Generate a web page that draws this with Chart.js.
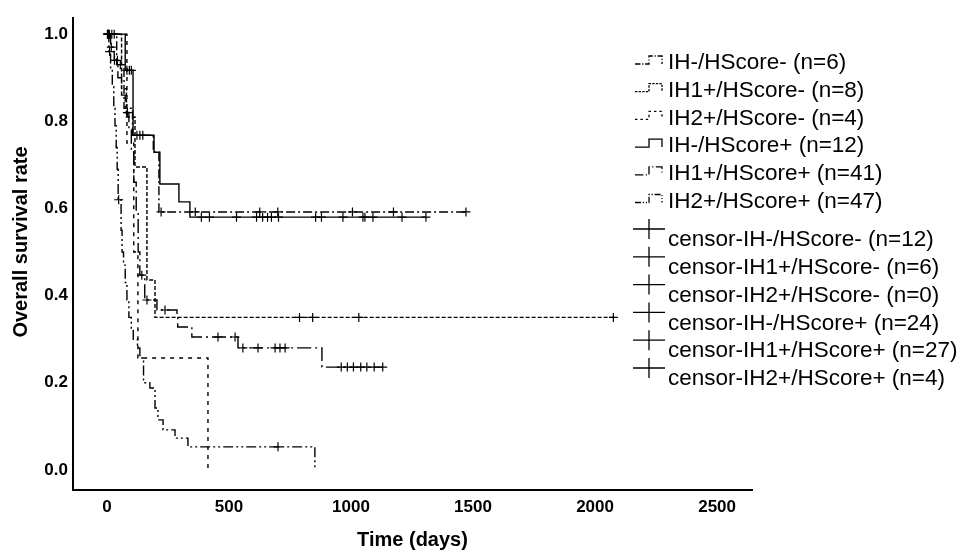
<!DOCTYPE html>
<html>
<head>
<meta charset="utf-8">
<script src="https://cdn.jsdelivr.net/npm/chart.js@4.4.1/dist/chart.umd.min.js"></script>
<style>
  html, body { margin: 0; padding: 0; background: #ffffff; }
  #wrap { width: 963px; height: 556px; position: relative; }
</style>
</head>
<body>
<div id="wrap"><canvas id="chart"></canvas></div>
<script>
/* Tick labels */
const xTicks = [0, 500, 1000, 1500, 2000, 2500];
const yTicks = [0, 0.2, 0.4, 0.6, 0.8, 1.0];
const yTitle = 'Overall survival rate';

/* Legend texts, same order as the groups below */
const groupNames = [
    'IH-/HScore- (n=6)',
    'IH1+/HScore- (n=8)',
    'IH2+/HScore- (n=4)',
    'IH-/HScore+ (n=12)',
    'IH1+/HScore+ (n=41)',
    'IH2+/HScore+ (n=47)',
];
const censorNames = [
    'censor-IH-/HScore- (n=12)',
    'censor-IH1+/HScore- (n=6)',
    'censor-IH2+/HScore- (n=0)',
    'censor-IH-/HScore+ (n=24)',
    'censor-IH1+/HScore+ (n=27)',
    'censor-IH2+/HScore+ (n=4)',
];

/* Kaplan-Meier steps: day of event, survival after it */
const ihNegHsNegDays = [0, 40, 70, 105, 190, 213, 1471];
const ihNegHsNegSurv = [1.0, 0.93, 0.83, 0.768, 0.729, 0.592, 0.592];
const ihNegHsNegCensor = [5, 20, 55, 123, 135, 147, 222, 362, 626, 700, 1006, 1174, 1471];

const ih1HsNegDays = [0, 60, 80, 115, 164, 197, 2075];
const ih1HsNegSurv = [1.0, 0.875, 0.81, 0.695, 0.436, 0.35, 0.35];
const ih1HsNegCensor = [30, 789, 843, 1032, 2075];

const ih2HsNegDays = [0, 82, 110, 127, 414];
const ih2HsNegSurv = [1.0, 0.75, 0.5, 0.257, 0.0];
const ih2HsNegCensor = [];

const ihNegHsPosDays = [0, 75, 107, 193, 217, 295, 340, 1307];
const ihNegHsPosSurv = [1.0, 0.917, 0.768, 0.729, 0.656, 0.615, 0.58, 0.58];
const ihNegHsPosCensor = [82, 92, 100, 387, 420, 531, 613, 638, 658, 674, 703, 855, 879, 967, 1049, 1057, 1090, 1209, 1307];

const ih1HsPosDays = [0, 15, 30, 45, 60, 75, 90, 100, 110, 120, 128, 135, 155, 205, 287, 290, 348, 537, 881, 1130];
const ih1HsPosSurv = [1.0, 0.97, 0.94, 0.9, 0.86, 0.82, 0.78, 0.73, 0.66, 0.59, 0.5, 0.447, 0.39, 0.367, 0.35, 0.328, 0.305, 0.28, 0.236, 0.236];
const ih1HsPosCensor = [4, 10, 18, 31, 43, 84, 143, 164, 238, 455, 525, 557, 619, 689, 709, 730, 960, 985, 1010, 1040, 1065, 1095, 1130];

const ih2HsPosDays = [0, 8, 15, 22, 28, 33, 38, 42, 46, 58, 62, 68, 75, 82, 90, 100, 108, 125, 135, 150, 176, 197, 209, 230, 279, 332, 852];
const ih2HsPosSurv = [1.0, 0.96, 0.92, 0.88, 0.83, 0.79, 0.74, 0.69, 0.62, 0.55, 0.5, 0.47, 0.43, 0.39, 0.35, 0.32, 0.30, 0.28, 0.257, 0.2, 0.188, 0.142, 0.115, 0.092, 0.073, 0.053, 0.0];
const ih2HsPosCensor = [2, 6, 11, 48, 701];

/* Line style per group */
const dashes = [[9, 3, 2, 3], [4, 2], [4, 5], [], [14, 4, 2, 4], [10, 3, 2, 3, 2, 3]];

const groups = [
    [ihNegHsNegDays, ihNegHsNegSurv, ihNegHsNegCensor],
    [ih1HsNegDays, ih1HsNegSurv, ih1HsNegCensor],
    [ih2HsNegDays, ih2HsNegSurv, ih2HsNegCensor],
    [ihNegHsPosDays, ihNegHsPosSurv, ihNegHsPosCensor],
    [ih1HsPosDays, ih1HsPosSurv, ih1HsPosCensor],
    [ih2HsPosDays, ih2HsPosSurv, ih2HsPosCensor],
];

// survival of a step curve at day t
function survAt(days, surv, t) {
    let s = surv[0];
    for (let i = 0; i < days.length; i++) {
        if (days[i] <= t) s = surv[i];
    }
    return s;
}

const lineSets = groups.map((g, i) => ({
    type: 'line',
    label: groupNames[i],
    data: g[0].map((d, k) => ({ x: d, y: g[1][k] })),
    stepped: 'before',
    borderColor: '#000000',
    borderWidth: 1.4,
    borderDash: dashes[i],
    pointRadius: 0,
    fill: false,
}));

const censorSets = groups.map((g, i) => ({
    type: 'scatter',
    label: censorNames[i],
    data: g[2].map((d) => ({ x: d, y: survAt(g[0], g[1], d) })),
    pointStyle: 'cross',
    pointRadius: 4.5,
    borderColor: '#000000',
    borderWidth: 1.2,
}));

/* Legend and y title drawn to look like the SPSS ones */
const kmLegend = {
    id: 'kmLegend',
    afterDraw(chart) {
        const ctx = chart.ctx;
        ctx.save();
        ctx.font = '22.5px "Liberation Sans", Arial, sans-serif';
        ctx.fillStyle = '#000000';
        ctx.strokeStyle = '#000000';
        ctx.textBaseline = 'middle';
        ctx.lineWidth = 1.3;
        groupNames.forEach((name, i) => {
            const y = 63 + i * 27.7;
            ctx.setLineDash(dashes[i].map((v) => Math.max(1, v * 0.6)));
            ctx.beginPath();
            ctx.moveTo(635, y + 1);
            ctx.lineTo(649, y + 1);
            ctx.lineTo(649, y - 7);
            ctx.lineTo(662, y - 7);
            ctx.lineTo(662, y + 1);
            ctx.stroke();
            ctx.setLineDash([]);
            ctx.fillText(name, 668, y);
        });
        censorNames.forEach((name, i) => {
            const y = 240 + i * 27.8;
            ctx.beginPath();
            ctx.moveTo(633, y - 11);
            ctx.lineTo(665, y - 11);
            ctx.moveTo(649, y - 21);
            ctx.lineTo(649, y - 1);
            ctx.stroke();
            ctx.fillText(name, 668, y);
        });

        // y axis title, a little above the axis middle as in the source
        ctx.translate(21, 242);
        ctx.rotate(-Math.PI / 2);
        ctx.textAlign = 'center';
        ctx.font = 'bold 20px "Liberation Sans", Arial, sans-serif';
        ctx.fillText(yTitle, 0, 0);
        ctx.restore();
    },
};

new Chart(document.getElementById('chart'), {
    data: { datasets: [...lineSets, ...censorSets] },
    options: {
        responsive: true,
        maintainAspectRatio: false,
        animation: false,
        layout: { padding: { top: 18, right: 211, left: 0, bottom: 0 } },
        plugins: {
            legend: { display: false },
            tooltip: { enabled: false },
        },
        scales: {
            x: {
                type: 'linear',
                min: -139,
                max: 2643,
                afterBuildTicks: (s) => { s.ticks = xTicks.map((v) => ({ value: v })); },
                afterFit: (s) => { s.height = 66; },
                grid: { display: false, drawTicks: false },
                border: { display: true, color: '#000000', width: 2 },
                ticks: {
                    color: '#000000',
                    padding: 7,
                    maxRotation: 0,
                    autoSkip: false,
                    font: { family: 'Liberation Sans', size: 17, weight: 'bold' },
                    callback: (v) => String(v),
                },
                title: {
                    display: true,
                    text: 'Time (days)',
                    color: '#000000',
                    font: { family: 'Liberation Sans', size: 20, weight: 'bold' },
                    padding: { top: 0, bottom: 4 },
                },
            },
            y: {
                type: 'linear',
                min: -0.046,
                max: 1.037,
                afterBuildTicks: (s) => { s.ticks = yTicks.map((v) => ({ value: v })); },
                afterFit: (s) => { s.width = 73; },
                grid: { display: false, drawTicks: false },
                border: { display: true, color: '#000000', width: 2 },
                ticks: {
                    color: '#000000',
                    padding: 5,
                    font: { family: 'Liberation Sans', size: 17, weight: 'bold' },
                    callback: (v) => v.toFixed(1),
                },
                title: { display: false },
            },
        },
    },
    plugins: [kmLegend],
});
</script>
</body>
</html>
